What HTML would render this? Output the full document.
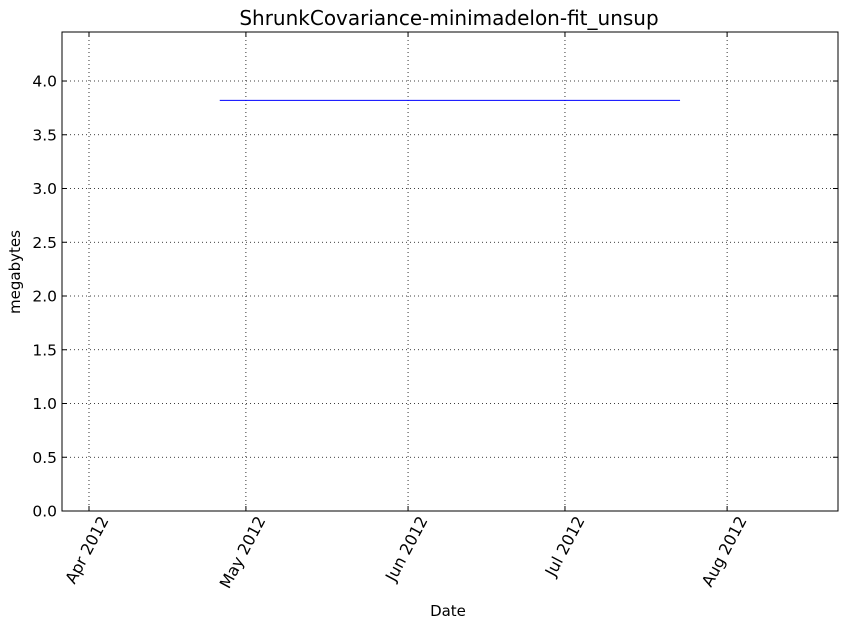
<!DOCTYPE html>
<html><head><meta charset="utf-8"><style>
body{margin:0;background:#fff;}
svg{display:block;font-family:"DejaVu Sans","Liberation Sans",sans-serif;}
</style></head><body>
<svg id="chart" width="846" height="626">
<rect width="846" height="626" fill="#fff"/>
<text x="449" y="25" font-size="20" text-anchor="middle">ShrunkCovariance-minimadelon-fit_unsup</text>
<text x="448" y="616" font-size="15" text-anchor="middle">Date</text>
<text transform="translate(20,272) rotate(-90)" font-size="15" text-anchor="middle">megabytes</text>
<g id="grid"></g><g id="series"></g><g id="axes"></g>
<rect x="62" y="32" width="776" height="479" fill="none" stroke="#000" stroke-width="1"/>
</svg>
<script>
const yTicks=[0,0.5,1.0,1.5,2.0,2.5,3.0,3.5,4.0];
const xTickDays=[0,30,61,91,122];
const xTickLabels=["Apr 2012","May 2012","Jun 2012","Jul 2012","Aug 2012"];
const seriesDays=[25,113];
const seriesValues=[3.82,3.82];
const L=62,R=838,T=32,B=511,xMin=-5.16,xMax=143.2,yMin=0,yMax=4.456;
const sx=d=>L+(d-xMin)/(xMax-xMin)*(R-L);
const sy=v=>B-(v-yMin)/(yMax-yMin)*(B-T);
const NS="http://www.w3.org/2000/svg";
const grid=document.getElementById('grid'),axes=document.getElementById('axes'),ser=document.getElementById('series');
function mk(t,a,p){const e=document.createElementNS(NS,t);for(const k in a)e.setAttribute(k,a[k]);p.appendChild(e);return e;}
yTicks.forEach(v=>{const y=sy(v);
const g=mk('line',{x1:L,x2:R,y1:y,y2:y,stroke:'#000','stroke-dasharray':'1,3','stroke-width':0.8},grid);


mk('line',{x1:L,x2:L+5,y1:y,y2:y,stroke:'#000'},axes);
mk('line',{x1:R-5,x2:R,y1:y,y2:y,stroke:'#000'},axes);
const t=mk('text',{x:L-5,y:y+5.5,'font-size':15.5,'text-anchor':'end'},axes);t.textContent=v.toFixed(1);

});
xTickDays.forEach((d,i)=>{const x=sx(d);
const g=mk('line',{x1:x,x2:x,y1:T,y2:B,stroke:'#000','stroke-dasharray':'1,3','stroke-width':0.8},grid);


mk('line',{x1:x,x2:x,y1:B-5,y2:B,stroke:'#000'},axes);
mk('line',{x1:x,x2:x,y1:T,y2:T+5,stroke:'#000'},axes);
const t=mk('text',{transform:`translate(${x+20},${B+9}) rotate(-62)`,'font-size':16,'text-anchor':'end'},axes);t.textContent=xTickLabels[i];

});
const pts=seriesDays.map((d,i)=>sx(d)+','+sy(seriesValues[i])).join(' ');
const pl=mk('polyline',{points:pts,fill:'none',stroke:'#0000ff','stroke-width':1},ser);


</script>
</body></html>
